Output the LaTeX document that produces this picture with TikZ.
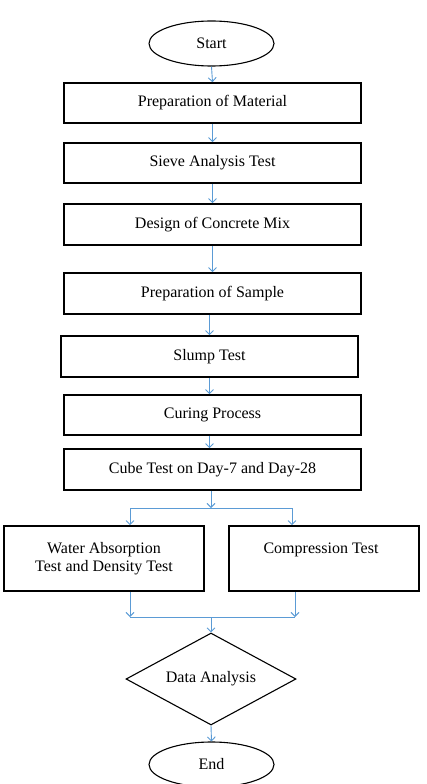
\documentclass[tikz,border=0pt]{standalone}
\usepackage{fontspec}
\setmainfont{Liberation Serif}
\usetikzlibrary{shapes.geometric,arrows.meta}
\definecolor{arrowblue}{HTML}{5B9BD5}
\tikzset{
  stepbox/.style={draw=black, line width=1.6pt, rectangle, minimum width=297pt, minimum height=40pt, inner sep=0pt, font=\fontsize{16pt}{18pt}\selectfont},
  termnode/.style={draw=black, line width=1.1pt, ellipse, minimum width=125pt, minimum height=45pt, inner sep=0pt, font=\fontsize{16pt}{18pt}\selectfont},
  decnode/.style={draw=black, line width=1.1pt, diamond, aspect=1.85, minimum width=170pt, minimum height=92pt, inner sep=0pt, font=\fontsize{16pt}{18pt}\selectfont},
  flow/.style={draw=arrowblue, line width=0.9pt, -{Straight Barb[length=4pt,width=8pt]}},
  flowline/.style={draw=arrowblue, line width=0.9pt},
}
\begin{document}
\begin{tikzpicture}[x=1pt,y=-1pt]
\useasboundingbox (0,0) rectangle (426,784);
\node[termnode] (start) at (211.5,43.5) {Start};
\node[stepbox] (b1) at (212.5,103) {Preparation of Material};
\node[stepbox] (b2) at (212.5,163) {Sieve Analysis Test};
\node[stepbox, minimum height=41pt] (b3) at (212.5,224.5) {Design of Concrete Mix};
\node[stepbox, minimum height=41pt] (b4) at (212.5,293.5) {Preparation of Sample};
\node[stepbox, minimum height=41pt] (b5) at (209.5,356.5) {Slump Test};
\node[stepbox] (b6) at (212.5,415) {Curing Process};
\node[stepbox, minimum height=41pt] (b7) at (212.5,469.5) {Cube Test on Day-7 and Day-28};
\node[stepbox, minimum width=200pt, minimum height=65pt] (wa) at (104,558.5) {};
\node[font=\fontsize{16pt}{18pt}\selectfont, align=center] (watxt) at (104,559) {Water Absorption\\Test and Density Test};
\node[stepbox, minimum width=190pt, minimum height=65pt] (ct) at (324,558.5) {};
\node[font=\fontsize{16pt}{18pt}\selectfont] (cttxt) at (321,550) {Compression Test};
\node[decnode] (da) at (211,679) {Data Analysis};
\node[termnode] (end) at (211.5,764.5) {End};

\coordinate (split) at (211,508);
\coordinate (splitL) at (130,508);
\coordinate (splitR) at (292,508);
\coordinate (joinL) at (130,617);
\coordinate (joinR) at (295,617);
\coordinate (join) at (211,617);

\draw[flow] (start.south) -- (b1.north);
\draw[flow] (b1.south) -- (b2.north);
\draw[flow] (b2.south) -- (b3.north);
\draw[flow] (b3.south) -- (b4.north);
\draw[flow] (b4.south -| b5.north) -- (b5.north);
\draw[flow] (b5.south) -- (b6.north -| b5.south);
\draw[flow] (b6.south -| b5.south) -- (b7.north -| b5.south);
\draw[flow] (b7.south -| split) -- (split);
\draw[flowline] (splitL) -- (splitR);
\draw[flow] (splitL) -- (splitL |- wa.north);
\draw[flow] (splitR) -- (splitR |- ct.north);
\draw[flow] (joinL |- wa.south) -- (joinL);
\draw[flow] (joinR |- ct.south) -- (joinR);
\draw[flowline] (joinL) -- (joinR);
\draw[flow] (join) -- (da.north);
\draw[flow] (da.south) -- (end.north);
\end{tikzpicture}
\end{document}
